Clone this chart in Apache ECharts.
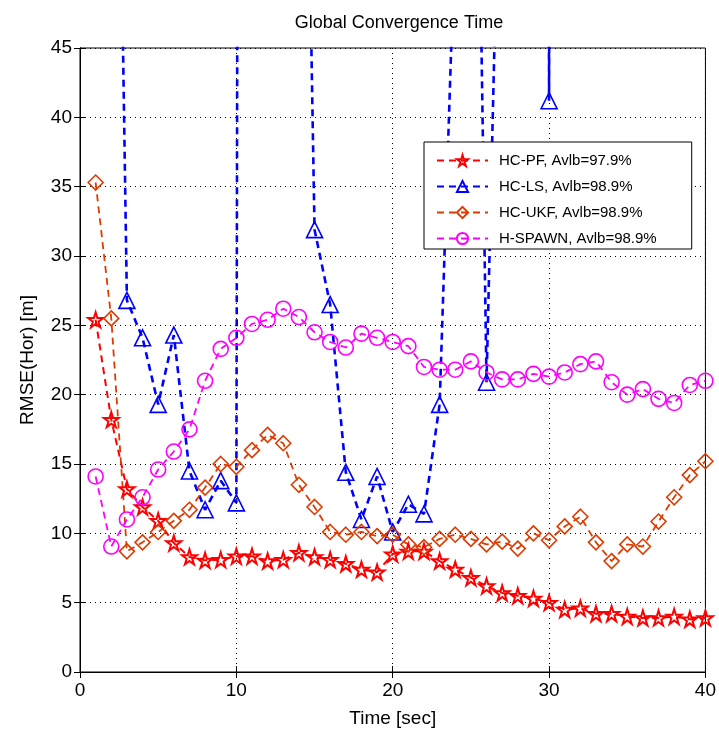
<!DOCTYPE html>
<html>
<head>
<meta charset="utf-8">
<script src="https://cdn.jsdelivr.net/npm/echarts@6/dist/echarts.min.js"></script>
<style>
  html, body { margin: 0; padding: 0; background: #fff; }
  #chart { width: 719px; height: 738px; }
</style>
</head>
<body>
<div id="chart"></div>
<script>
// time steps (sec)
var times = [1, 2, 3, 4, 5, 6, 7, 8, 9, 10, 11, 12, 13, 14, 15, 16, 17, 18, 19, 20,
             21, 22, 23, 24, 25, 26, 27, 28, 29, 30, 31, 32, 33, 34, 35, 36, 37, 38, 39, 40];

var hcPF = [25.4, 18.2, 13.2, 11.9, 10.9, 9.3, 8.3, 8.05, 8.1, 8.35,
            8.35, 8.0, 8.1, 8.6, 8.3, 8.1, 7.8, 7.4, 7.2, 8.5,
            8.7, 8.7, 8.0, 7.4, 6.8, 6.2, 5.7, 5.5, 5.3, 5.0,
            4.5, 4.6, 4.2, 4.2, 4.0, 3.9, 3.9, 4.0, 3.8, 3.9];

// values above 45 run off the top of the plot
var hcLS = [150, 100, 26.8, 24.1, 19.3, 24.3, 14.5, 11.7, 13.8, 12.2,
            600, 400, 200, 97, 31.9, 26.5, 14.4, 11.0, 14.1, 10.1,
            12.1, 11.4, 19.3, 54, 96, 20.9, 69, 150, 600, 41.2,
            600, 300, 200, 200, 200, 200, 200, 200, 200, 200];

var hcUKF = [35.3, 25.5, 8.7, 9.35, 10.1, 10.9, 11.7, 13.3, 15.0, 14.8,
             16.0, 17.1, 16.5, 13.5, 11.9, 10.1, 9.9, 10.1, 9.8, 9.9,
             9.2, 9.0, 9.6, 9.9, 9.6, 9.2, 9.4, 8.9, 10.0, 9.5,
             10.5, 11.2, 9.35, 8.0, 9.2, 9.05, 10.85, 12.6, 14.2, 15.2];

var hSPAWN = [14.1, 9.05, 11.0, 12.6, 14.6, 15.9, 17.5, 21.0, 23.3, 24.1,
              25.1, 25.4, 26.2, 25.6, 24.5, 23.8, 23.4, 24.4, 24.1, 23.8,
              23.5, 22.0, 21.8, 21.8, 22.4, 21.6, 21.1, 21.1, 21.5, 21.3,
              21.6, 22.2, 22.4, 20.9, 20.0, 20.4, 19.7, 19.4, 20.7, 21.0];

var xTicks = [0, 10, 20, 30, 40];
var yTicks = [0, 5, 10, 15, 20, 25, 30, 35, 40, 45];

var starPath = 'path://M50,0 L61,35 L98,35 L68,57 L79,91 L50,70 L21,91 L32,57 L2,35 L39,35 Z';

function pairs(ys) {
    return times.map(function(t, i) { return [t, ys[i]]; });
}

function makeSeries(name, ys, color, symbol, size, width, bw) {
    return {
        name: name,
        type: 'line',
        data: pairs(ys),
        clip: true,
        symbol: symbol,
        symbolSize: size,
        showAllSymbol: true,
        lineStyle: { color: color, width: width, type: [7, 5] },
        // hollow markers, line shows through like in MATLAB
        itemStyle: { color: 'rgba(255,255,255,0)', borderColor: color, borderWidth: bw },
        emphasis: { disabled: true },
        animation: false
    };
}

var font = 'Arial, "Liberation Sans", sans-serif';

var myChart = echarts.init(document.getElementById('chart'));
var option = {
    backgroundColor: '#fff',
    title: {
        text: 'Global Convergence Time',
        left: 394,
        textAlign: 'center',
        top: 9,
        textStyle: { fontFamily: font, fontSize: 18, fontWeight: 'normal', color: '#000' }
    },
    legend: {
        orient: 'vertical',
        left: 424,
        top: 142,
        backgroundColor: '#fff',
        borderColor: '#000',
        borderWidth: 1,
        borderRadius: 0,
        padding: [11, 35, 3, 12],
        itemGap: 11,
        itemWidth: 51,
        itemHeight: 14,
        textStyle: { fontFamily: font, fontSize: 15, color: '#000', padding: [0, 0, 0, 6] },
        data: ['HC-PF, Avlb=97.9%', 'HC-LS, Avlb=98.9%', 'HC-UKF, Avlb=98.9%', 'H-SPAWN, Avlb=98.9%']
    },
    grid: {
        left: 80,
        right: 11,
        top: 48,
        bottom: 66,
        show: true,
        borderColor: '#000',
        borderWidth: 1
    },
    xAxis: [
        {
            type: 'value',
            min: 0,
            max: 40,
            interval: 10,
            name: 'Time [sec]',
            nameLocation: 'middle',
            nameGap: 37,
            nameTextStyle: { fontFamily: font, fontSize: 19, color: '#000' },
            axisLine: { show: true, lineStyle: { color: '#000' } },
            axisTick: { inside: true, length: 6, lineStyle: { color: '#000' } },
            axisLabel: {
                fontFamily: font, fontSize: 19, color: '#000', margin: 9,
                formatter: function(v) { return xTicks.indexOf(v) >= 0 ? String(v) : ''; }
            },
            splitLine: { show: true, lineStyle: { color: '#000', type: [1, 4], width: 1 } }
        },
        {
            type: 'value', position: 'top', min: 0, max: 40, interval: 10,
            axisLine: { show: true, lineStyle: { color: '#000' } },
            axisTick: { inside: true, length: 6, lineStyle: { color: '#000' } },
            axisLabel: { show: false },
            splitLine: { show: false }
        }
    ],
    yAxis: [
        {
            type: 'value',
            min: 0,
            max: 45,
            interval: 5,
            name: 'RMSE(Hor) [m]',
            nameLocation: 'middle',
            nameGap: 43,
            nameTextStyle: { fontFamily: font, fontSize: 19, color: '#000' },
            axisLine: { show: true, lineStyle: { color: '#000' } },
            axisTick: { inside: true, length: 6, lineStyle: { color: '#000' } },
            axisLabel: {
                fontFamily: font, fontSize: 19, color: '#000', margin: 8,
                formatter: function(v) { return yTicks.indexOf(v) >= 0 ? String(v) : ''; }
            },
            splitLine: { show: true, lineStyle: { color: '#000', type: [1, 4], width: 1 } }
        },
        {
            type: 'value', position: 'right', min: 0, max: 45, interval: 5,
            axisLine: { show: true, lineStyle: { color: '#000' } },
            axisTick: { inside: true, length: 6, lineStyle: { color: '#000' } },
            axisLabel: { show: false },
            splitLine: { show: false }
        }
    ],
    series: [
        makeSeries('HC-PF, Avlb=97.9%', hcPF, '#ff0000', starPath, 15, 2, 2),
        makeSeries('HC-LS, Avlb=98.9%', hcLS, '#0000ff', 'triangle', 16, 2.6, 1.6),
        makeSeries('HC-UKF, Avlb=98.9%', hcUKF, '#dc3c00', 'diamond', 15, 1.8, 1.6),
        makeSeries('H-SPAWN, Avlb=98.9%', hSPAWN, '#ff00ff', 'circle', 15, 1.8, 1.6)
    ]
};

myChart.setOption(option);
</script>
</body>
</html>
